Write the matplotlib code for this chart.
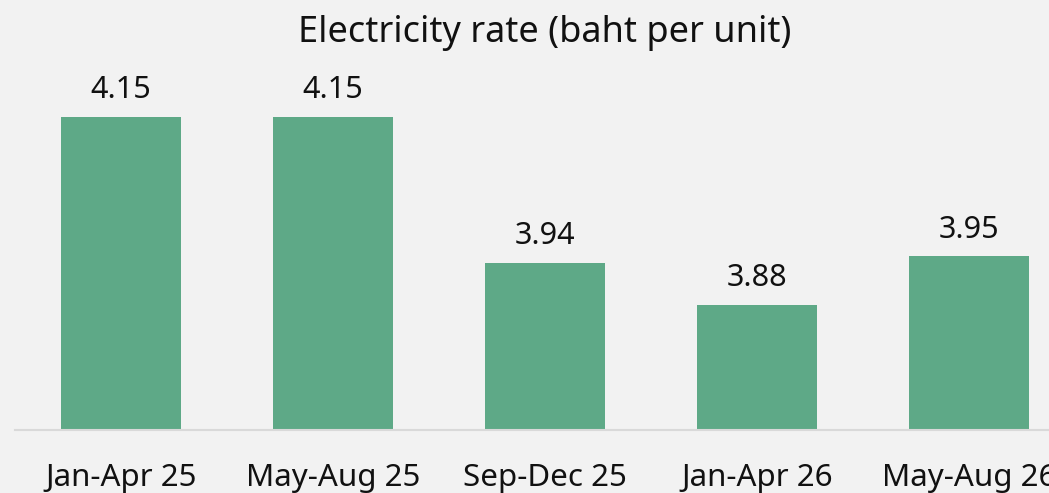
import matplotlib
matplotlib.use('Agg')
import matplotlib.pyplot as plt

periods = ['Jan-Apr 25', 'May-Aug 25', 'Sep-Dec 25', 'Jan-Apr 26', 'May-Aug 26']
rates = [4.15, 4.15, 3.94, 3.88, 3.95]

bg = '#f2f2f2'
bar_color = '#5ea987'

plt.rcParams['font.family'] = ['Noto Sans', 'DejaVu Sans']

fig = plt.figure(figsize=(10.49, 4.93), dpi=100, facecolor=bg)
# axes run a little past the right edge so the last bar sits near the border
ax = fig.add_axes([15 / 1049, 63 / 493, 1060 / 1049, 382 / 493])
ax.set_facecolor(bg)

x = range(len(periods))
bars = ax.bar(x, rates, width=0.57, color=bar_color)
ax.set_xlim(-0.5, len(periods) - 0.5)
ax.set_ylim(3.70, 3.70 + 382 / 695)

for b, v in zip(bars, rates):
  ax.annotate('%.2f' % v, (b.get_x() + b.get_width() / 2, v),
              xytext=(0, 13.5), textcoords='offset points',
              ha='center', va='baseline', fontsize=22, color='#111111')

ax.set_xticks(list(x))
ax.set_xticklabels(periods, fontsize=22.5, color='#111111')
ax.tick_params(axis='x', length=0, pad=24)
ax.set_yticks([])
for side in ['left', 'right', 'top']:
  ax.spines[side].set_visible(False)
ax.spines['bottom'].set_color('#d9d9d9')
ax.spines['bottom'].set_linewidth(1.5)

fig.text(545 / 1049, 1 - 42 / 493, 'Electricity rate (baht per unit)',
         ha='center', va='baseline', fontsize=26, color='#111111')

fig.savefig('out.png', dpi=100, facecolor=bg)
